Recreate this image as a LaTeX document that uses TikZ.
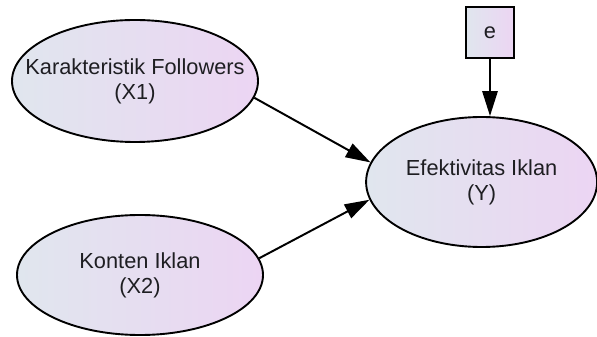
\documentclass[tikz,border=0pt]{standalone}
\usepackage{fontspec}
\setmainfont{Liberation Sans}
\usepackage{tikz}
\usetikzlibrary{arrows.meta}
\usetikzlibrary{shapes.geometric}

\definecolor{shadeleft}{RGB}{224,230,238}
\definecolor{shaderight}{RGB}{236,213,243}
\definecolor{inktext}{RGB}{30,30,34}

\tikzset{
  latent/.style={ellipse, draw, line width=1.35pt, left color=shadeleft,
    right color=shaderight, inner sep=0pt},
  errbox/.style={rectangle, draw, line width=1.35pt, left color=shadeleft,
    right color=shaderight, minimum width=1.2cm, minimum height=1.275cm,
    inner sep=0pt, text=inktext},
  varname/.style={align=center, text=inktext, font=\fontsize{15.5}{17.8}\selectfont},
  path/.style={line width=1.4pt, -{Triangle[length=0.62cm, width=0.38cm]}}
}

\begin{document}
\begin{tikzpicture}
      \useasboundingbox (0, 0) rectangle (14.925, 8.4);

      \node [latent, minimum width=6.15cm, minimum height=3.05cm,
        label={[varname]center:Karakteristik Followers\\(X1)}] (x1) at (3.375, 6.375) {};
      \node [latent, minimum width=6.15cm, minimum height=3.0cm,
        label={[varname]center:Konten Iklan\\(X2)}] (x2) at (3.5, 1.525) {};
      \node [latent, minimum width=5.775cm, minimum height=3.25cm,
        label={[varname]center:Efektivitas Iklan\\(Y)}] (y) at (12.04, 3.85) {};
      \node [errbox, font=\fontsize{15.5}{17.8}\selectfont] (e) at (12.25, 7.5875) {e};

      \draw [path] (x1.-8) -- (y.170);
      \draw [path] (x2.8) -- (y.189);
      \draw [path] (e) -- (e |- y.north);
    \end{tikzpicture}
\end{document}
